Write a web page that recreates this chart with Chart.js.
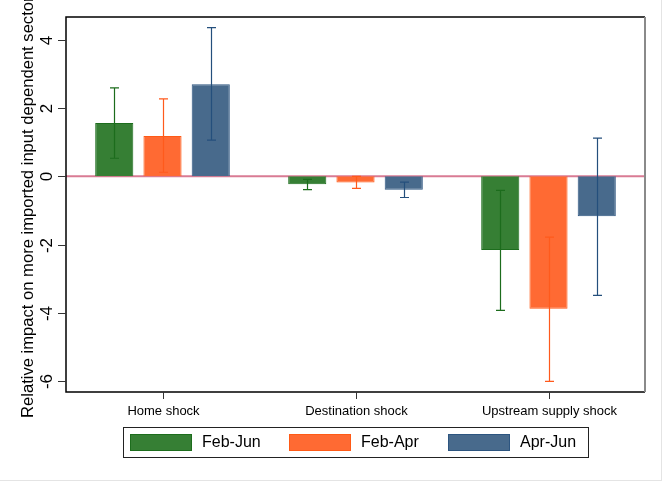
<!DOCTYPE html>
<html>
<head>
<meta charset="utf-8">
<script src="https://cdn.jsdelivr.net/npm/chart.js@4/dist/chart.umd.min.js"></script>
<style>
  html, body { margin: 0; padding: 0; background: #fff; }
  #wrap { position: relative; width: 661px; height: 480px; border-right: 1px solid #e4e4e4; border-bottom: 1px solid #e4e4e4; }
</style>
</head>
<body>
<div id="wrap"><canvas id="grafico"></canvas></div>
<script>
const categorias = ['Home shock', 'Destination shock', 'Upstream supply shock'];
const series = ['Feb-Jun', 'Feb-Apr', 'Apr-Jun'];

const febJun = [1.56, -0.23, -2.16];
const febApr = [1.18, -0.18, -3.88];
const aprJun = [2.70, -0.39, -1.17];

const febJunBaixo = [0.53, -0.39, -3.93];
const febJunAlto = [2.59, -0.09, -0.41];
const febAprBaixo = [0.12, -0.35, -6.01];
const febAprAlto = [2.27, 0.00, -1.78];
const aprJunBaixo = [1.06, -0.62, -3.49];
const aprJunAlto = [4.36, -0.17, 1.12];

const yTicks = [4, 2, 0, -2, -4, -6];
const tituloY = 'Relative impact on more imported input dependent sectors';

const cores = ['#367f34', '#ff6a33', '#486a8c'];
const bordas = ['#1d6d1d', '#ff5a16', '#2d5580'];
const coresErro = ['#1c6c1c', '#ff5a1c', '#244f7c'];
const intervalos = [[febJunBaixo, febJunAlto], [febAprBaixo, febAprAlto], [aprJunBaixo, aprJunAlto]];

const desenhoExtra = {
  id: 'desenhoExtra',
  beforeDatasetsDraw(chart) {
    const { ctx, chartArea: a, scales: { y } } = chart;
    const y0 = y.getPixelForValue(0);
    ctx.save();
    ctx.strokeStyle = '#d97b94';
    ctx.lineWidth = 2;
    ctx.beginPath();
    ctx.moveTo(a.left, y0);
    ctx.lineTo(a.right, y0);
    ctx.stroke();
    ctx.restore();
  },
  afterDatasetsDraw(chart) {
    const { ctx, chartArea: a, scales: { x, y } } = chart;
    ctx.save();

    // barras de erro
    chart.data.datasets.forEach((ds, i) => {
      const meta = chart.getDatasetMeta(i);
      const [baixo, alto] = intervalos[i];
      meta.data.forEach((bar, j) => {
        const px = Math.round(bar.x) + 0.5;
        const yb = y.getPixelForValue(baixo[j]);
        const ya = y.getPixelForValue(alto[j]);
        ctx.strokeStyle = coresErro[i];
        ctx.lineWidth = 1.2;
        ctx.beginPath();
        ctx.moveTo(px, ya); ctx.lineTo(px, yb);
        ctx.moveTo(px - 4.5, ya); ctx.lineTo(px + 4.5, ya);
        ctx.moveTo(px - 4.5, yb); ctx.lineTo(px + 4.5, yb);
        ctx.stroke();
      });
    });

    // moldura
    ctx.lineWidth = 1.5;
    ctx.strokeStyle = '#000';
    ctx.beginPath();
    ctx.moveTo(a.right, a.top); ctx.lineTo(a.left, a.top);
    ctx.lineTo(a.left, a.bottom); ctx.lineTo(a.right, a.bottom);
    ctx.stroke();
    ctx.strokeStyle = '#8a8a8a';
    ctx.lineWidth = 2;
    ctx.beginPath();
    ctx.moveTo(a.right, a.top); ctx.lineTo(a.right, a.bottom);
    ctx.stroke();

    // eixo y
    ctx.strokeStyle = '#333';
    ctx.lineWidth = 1;
    ctx.fillStyle = '#000';
    ctx.font = '17px Arial, "Liberation Sans", sans-serif';
    ctx.textAlign = 'center';
    ctx.textBaseline = 'alphabetic';
    yTicks.forEach(v => {
      const py = Math.round(y.getPixelForValue(v)) + 0.5;
      ctx.beginPath();
      ctx.moveTo(a.left - 8, py); ctx.lineTo(a.left, py);
      ctx.stroke();
      ctx.save();
      ctx.translate(52, py);
      ctx.rotate(-Math.PI / 2);
      ctx.fillText(String(v), 0, 0);
      ctx.restore();
    });

    // titulo y
    ctx.save();
    ctx.font = '16.6px Arial, "Liberation Sans", sans-serif';
    ctx.textAlign = 'left';
    ctx.translate(33, 418);
    ctx.rotate(-Math.PI / 2);
    ctx.fillText(tituloY, 0, 0);
    ctx.restore();

    // eixo x
    ctx.font = '13px Arial, "Liberation Sans", sans-serif';
    ctx.textAlign = 'center';
    ctx.textBaseline = 'alphabetic';
    categorias.forEach((c, j) => {
      const px = Math.round(x.getPixelForValue(j)) + 0.5;
      ctx.beginPath();
      ctx.moveTo(px, a.bottom); ctx.lineTo(px, a.bottom + 7);
      ctx.stroke();
      ctx.fillText(c, px, 415);
    });

    // legenda
    ctx.strokeStyle = '#222';
    ctx.lineWidth = 1;
    ctx.strokeRect(123.5, 427.5, 465, 30);
    ctx.font = '16px Arial, "Liberation Sans", sans-serif';
    ctx.textAlign = 'left';
    ctx.textBaseline = 'middle';
    const xs = [130, 289, 448];
    chart.data.datasets.forEach((ds, i) => {
      ctx.fillStyle = cores[i];
      ctx.fillRect(xs[i], 434, 62, 17);
      ctx.strokeStyle = bordas[i];
      ctx.strokeRect(xs[i] + 0.5, 434.5, 61, 16);
      ctx.fillStyle = '#000';
      ctx.fillText(ds.label, xs[i] + 72, 443);
    });

    ctx.restore();
  }
};

new Chart(document.getElementById('grafico').getContext('2d'), {
  type: 'bar',
  data: {
    labels: categorias,
    datasets: [
      { label: series[0], data: febJun, backgroundColor: cores[0], borderColor: bordas[0], borderWidth: 1 },
      { label: series[1], data: febApr, backgroundColor: cores[1], borderColor: bordas[1], borderWidth: 1 },
      { label: series[2], data: aprJun, backgroundColor: cores[2], borderColor: bordas[2], borderWidth: 1 }
    ]
  },
  options: {
    responsive: true,
    maintainAspectRatio: false,
    animation: false,
    layout: { padding: { left: 66, right: 16, top: 17, bottom: 88 } },
    categoryPercentage: 0.75,
    barPercentage: 0.79,
    plugins: { legend: { display: false }, tooltip: { enabled: false } },
    scales: {
      x: { display: false },
      y: { display: false, min: -6.32, max: 4.67 }
    }
  },
  plugins: [desenhoExtra]
});
</script>
</body>
</html>
